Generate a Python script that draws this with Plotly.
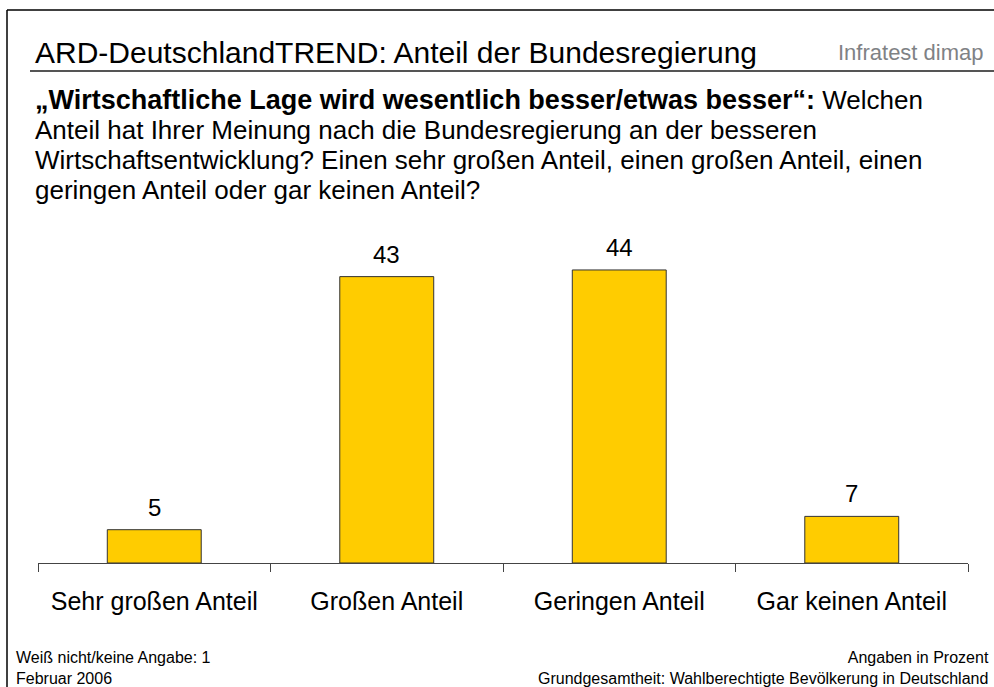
import plotly.graph_objects as go

# Data
categories = ["Sehr großen Anteil", "Großen Anteil", "Geringen Anteil", "Gar keinen Anteil"]
values = [5, 43, 44, 7]

title_text = "ARD-DeutschlandTREND: Anteil der Bundesregierung"
question_lines = [
    "<b><span style='font-size:27px'>„Wirtschaftliche Lage wird wesentlich besser/etwas besser“:</span></b> Welchen",
    "Anteil hat Ihrer Meinung nach die Bundesregierung an der besseren",
    "Wirtschaftsentwicklung? Einen sehr großen Anteil, einen großen Anteil, einen",
    "geringen Anteil oder gar keinen Anteil?",
]
footer_left = ["Weiß nicht/keine Angabe: 1", "Februar 2006"]
footer_right = ["Angaben in Prozent", "Grundgesamtheit: Wahlberechtigte Bevölkerung in Deutschland"]

W, H = 994, 687
L, R, T, B = 38, 26, 230, 124
PW, PH = W - L - R, H - T - B

FONT = "Liberation Sans, Arial, sans-serif"


def px(x):
    return (x - L) / PW


def py(y):
    return (H - B - y) / PH


fig = go.Figure()

fig.add_trace(go.Bar(
    x=categories,
    y=values,
    marker=dict(color="#FFCC00", line=dict(color="#333333", width=1)),
    hoverinfo="x+y",
))

annotations = []
# value labels above bars
for c, v in zip(categories, values):
    annotations.append(dict(
        text=str(v), x=c, y=v, xref="x", yref="y",
        xanchor="center", yanchor="bottom", yshift=7, showarrow=False,
        font=dict(size=24, color="#000000", family=FONT),
    ))
annotations.append(dict(
    text=title_text, x=px(33), y=py(52), xref="paper", yref="paper",
    xanchor="left", yanchor="middle", showarrow=False,
    font=dict(size=30, color="#000000", family=FONT),
))
annotations.append(dict(
    text="Infratest dimap", x=px(986), y=py(52), xref="paper", yref="paper",
    xanchor="right", yanchor="middle", showarrow=False,
    font=dict(size=22, color="#7F8285", family=FONT),
))
for i, line in enumerate(question_lines):
    annotations.append(dict(
        text=line, x=px(33), y=py(100 + 30 * i), xref="paper", yref="paper",
        xanchor="left", yanchor="middle", showarrow=False,
        font=dict(size=26, color="#000000", family=FONT),
    ))
# footers
annotations.append(dict(
    text="<br>".join(footer_left), x=px(14), y=py(668), xref="paper", yref="paper",
    xanchor="left", yanchor="middle", align="left", showarrow=False,
    font=dict(size=16, color="#000000", family=FONT),
))
annotations.append(dict(
    text="<br>".join(footer_right), x=px(991), y=py(668), xref="paper", yref="paper",
    xanchor="right", yanchor="middle", align="right", showarrow=False,
    font=dict(size=16, color="#000000", family=FONT),
))

shapes = [
    # outer frame (top and left)
    dict(type="line", xref="paper", yref="paper", x0=px(7), x1=px(W + 5), y0=py(10), y1=py(10),
         line=dict(color="#000000", width=1.5)),
    dict(type="line", xref="paper", yref="paper", x0=px(7), x1=px(7), y0=py(10), y1=py(H + 5),
         line=dict(color="#000000", width=1.5)),
    # header rule
    dict(type="line", xref="paper", yref="paper", x0=px(30), x1=px(W + 5), y0=py(71), y1=py(71),
         line=dict(color="#555555", width=2)),
]

fig.update_layout(
    width=W, height=H,
    margin=dict(l=L, r=R, t=T, b=B, pad=0),
    paper_bgcolor="#FFFFFF",
    plot_bgcolor="#FFFFFF",
    bargap=0.596,
    showlegend=False,
    annotations=annotations,
    shapes=shapes,
    xaxis=dict(
        range=[-0.5, 3.5],
        showline=True, linecolor="#444444", linewidth=1,
        ticks="outside", tickson="boundaries", ticklen=8, tickcolor="#444444", tickwidth=1,
        ticklabelstandoff=16,
        tickfont=dict(size=25, color="#000000", family=FONT),
        showgrid=False, zeroline=False, fixedrange=True,
    ),
    yaxis=dict(
        range=[0, 50], visible=False, showgrid=False, zeroline=False, fixedrange=True,
    ),
)

# drop the default page margin so the figure sits at the window's top-left corner
fig.write_html("out.html", config={"displayModeBar": False},
               post_script="document.body.style.margin='0';")
